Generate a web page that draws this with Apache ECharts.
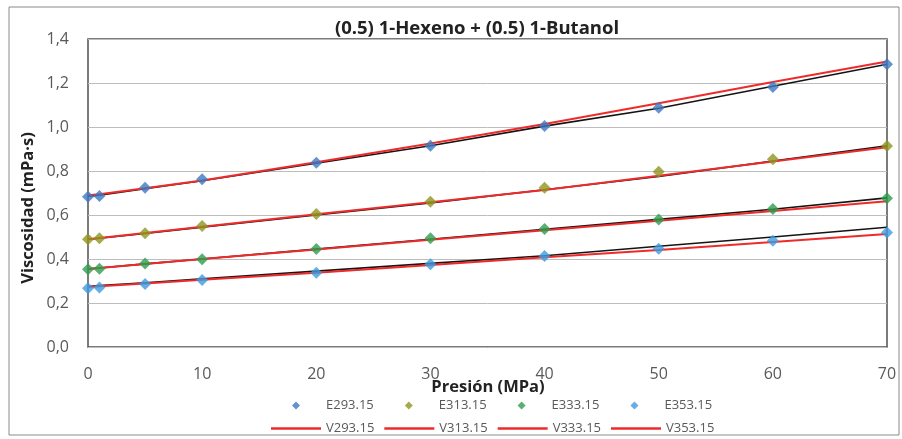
<!DOCTYPE html>
<html>
<head>
<meta charset="utf-8">
<script src="https://cdn.jsdelivr.net/npm/echarts@6/dist/echarts.min.js"></script>
<style>
  html, body { margin: 0; padding: 0; background: #fff; }
  #chart { width: 902px; height: 439px; }
</style>
</head>
<body>
<div id="chart"></div>
<script>
// Pressure points (MPa)
const pressure = [0, 1, 5, 10, 20, 30, 40, 50, 60, 70];

// Experimental viscosity (mPa·s) at each temperature (K)
const e293 = [0.683, 0.686, 0.724, 0.762, 0.838, 0.915, 1.005, 1.088, 1.182, 1.285];
const e313 = [0.490, 0.494, 0.517, 0.550, 0.605, 0.660, 0.724, 0.797, 0.853, 0.914];
const e333 = [0.353, 0.356, 0.379, 0.399, 0.445, 0.494, 0.536, 0.580, 0.627, 0.676];
const e353 = [0.267, 0.271, 0.286, 0.305, 0.338, 0.376, 0.414, 0.447, 0.483, 0.521];

// Calculated viscosity (red curves)
const v293 = [0.690, 0.694, 0.722, 0.757, 0.840, 0.925, 1.014, 1.108, 1.205, 1.298];
const v313 = [0.490, 0.495, 0.518, 0.547, 0.603, 0.658, 0.714, 0.778, 0.843, 0.908];
const v333 = [0.355, 0.359, 0.377, 0.400, 0.443, 0.487, 0.531, 0.574, 0.618, 0.662];
const v353 = [0.273, 0.276, 0.289, 0.306, 0.338, 0.373, 0.408, 0.441, 0.477, 0.514];

// Correlation curves (black)
const k293 = [0.685, 0.690, 0.720, 0.756, 0.835, 0.915, 1.004, 1.085, 1.185, 1.285];
const k313 = [0.490, 0.494, 0.516, 0.545, 0.600, 0.655, 0.715, 0.775, 0.845, 0.915];
const k333 = [0.355, 0.359, 0.378, 0.400, 0.445, 0.490, 0.535, 0.580, 0.626, 0.678];
const k353 = [0.275, 0.279, 0.292, 0.310, 0.345, 0.380, 0.415, 0.458, 0.500, 0.544];

// Axis ticks
const xTicks = [0, 10, 20, 30, 40, 50, 60, 70];
const yTicks = [0, 0.2, 0.4, 0.6, 0.8, 1.0, 1.2, 1.4];

const temps = ['293.15', '313.15', '333.15', '353.15'];
const expSets = [e293, e313, e333, e353];
const calcSets = [v293, v313, v333, v353];
const corrSets = [k293, k313, k333, k353];
const markerColors = ['#3f78c0', '#8f9520', '#2e9e4e', '#3d9be0'];
const redLine = '#ee2b2b';

const pairs = arr => pressure.map((p, i) => [p, arr[i]]);

const series = [];
corrSets.forEach((arr, i) => {
  series.push({
    name: 'C' + temps[i], type: 'line', data: pairs(arr), symbol: 'none',
    silent: true, z: 2, lineStyle: { color: '#141414', width: 1.6 }
  });
});
calcSets.forEach((arr, i) => {
  series.push({
    name: 'V' + temps[i], type: 'line', data: pairs(arr), symbol: 'none',
    silent: true, z: 3, itemStyle: { color: redLine }, lineStyle: { color: redLine, width: 2 }
  });
});
expSets.forEach((arr, i) => {
  series.push({
    name: 'E' + temps[i], type: 'scatter', data: pairs(arr), symbol: 'diamond',
    symbolSize: 12, z: 4, itemStyle: { color: markerColors[i] }
  });
});

const fmt = v => v.toFixed(1).replace('.', ',');
const font = '"Open Sans", "Noto Sans", sans-serif';
const legendText = { fontFamily: font, fontSize: 13, color: '#595959' };

const chart = echarts.init(document.getElementById('chart'));
chart.setOption({
  animation: false,
  backgroundColor: '#fff',
  title: {
    text: '(0.5) 1-Hexeno + (0.5) 1-Butanol',
    left: 472, top: 14, textAlign: 'center',
    textStyle: { fontFamily: font, fontSize: 18.5, fontWeight: 'bold', color: '#222' }
  },
  grid: {
    left: 88, right: 15, top: 39, bottom: 92,
    show: true, borderColor: '#505050', borderWidth: 1.5
  },
  xAxis: {
    type: 'value', min: xTicks[0], max: xTicks[xTicks.length - 1], interval: 10,
    axisLine: { show: false }, axisTick: { show: false }, splitLine: { show: false },
    axisLabel: { fontFamily: font, fontSize: 16, color: '#595959', margin: 19 }
  },
  yAxis: {
    type: 'value', min: yTicks[0], max: yTicks[yTicks.length - 1], interval: 0.2,
    axisLine: { show: false }, axisTick: { show: false },
    splitLine: { lineStyle: { color: '#bdbdbd', width: 1 } },
    axisLabel: { fontFamily: font, fontSize: 16, color: '#595959', margin: 19, formatter: fmt }
  },
  legend: [
    {
      data: temps.map(t => ({ name: 'E' + t, icon: 'diamond' })),
      left: 287, top: 394,
      itemWidth: 8, itemHeight: 8, itemGap: 31,
      textStyle: Object.assign({ width: 55, padding: [0, 0, 0, 21] }, legendText)
    },
    {
      data: temps.map(t => ({ name: 'V' + t, icon: 'rect' })),
      left: 266, top: 417,
      itemWidth: 50, itemHeight: 2.5, itemGap: 10,
      textStyle: Object.assign({ width: 55 }, legendText)
    }
  ],
  graphic: [
    {
      type: 'rect', shape: { x: 9, y: 7, width: 890, height: 428 },
      style: { fill: 'none', stroke: '#8a8a8a', lineWidth: 1 }, z: -1
    },
    {
      // y-axis title
      type: 'text', x: 28, y: 208, rotation: Math.PI / 2,
      style: {
        text: 'Viscosidad (mPa·s)', fontFamily: font, fontSize: 16.5, fontWeight: 'bold',
        fill: '#222', align: 'center', verticalAlign: 'middle'
      }
    },
    {
      // x-axis title
      type: 'text', x: 488, y: 387,
      style: {
        text: 'Presión (MPa)', fontFamily: font, fontSize: 16.5, fontWeight: 'bold',
        fill: '#222', align: 'center', verticalAlign: 'middle'
      }
    }
  ],
  series: series
});
</script>
</body>
</html>
